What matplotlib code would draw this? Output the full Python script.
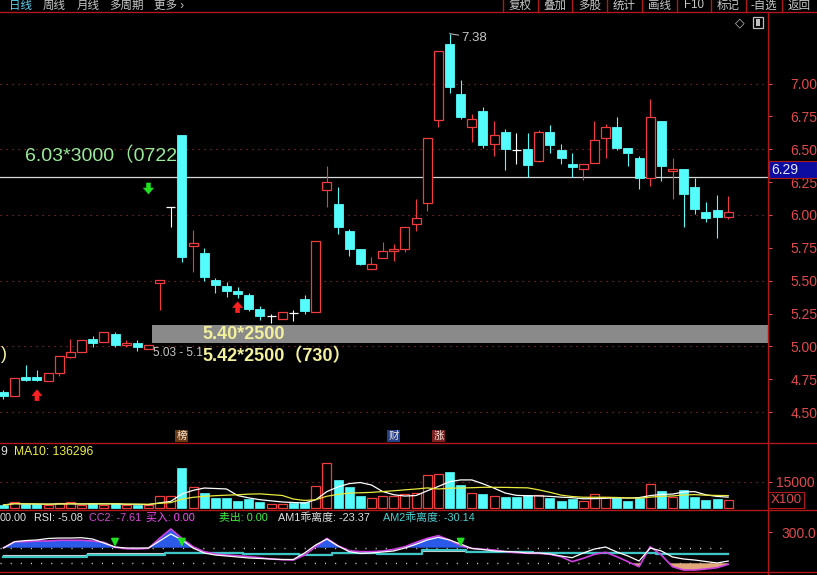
"""Daily K-line screen (candles + volume + deviation indicator), redrawn with matplotlib."""
import numpy as np
import pandas as pd
import matplotlib
matplotlib.use("Agg")
import matplotlib.pyplot as plt
from matplotlib.patches import Rectangle, Polygon
from matplotlib.lines import Line2D

# ---- values ----
opens = [4.65, 4.62, 4.77, 4.77, 4.74, 4.795, 4.92, 4.955, 5.056, 5.036,
         5.094, 5.008, 5.028, 4.982, 5.485, 6.059, 6.609, 5.766, 5.709, 5.505,
         5.46, 5.424, 5.391, 5.285, 5.231, 5.211, 5.253, 5.358, 5.26, 6.188,
         6.084, 5.878, 5.739, 5.587, 5.675, 5.726, 5.739, 5.932, 6.089, 6.723,
         7.301, 6.921, 6.667, 6.791, 6.538, 6.634, 6.492, 6.502, 6.413, 6.629,
         6.495, 6.388, 6.348, 6.398, 6.584, 6.667, 6.508, 6.432, 6.279, 6.713,
         6.333, 6.348, 6.211, 6.021, 6.038, 5.987]
highs = [4.67, 4.76, 4.855, 4.82, 4.80, 4.93, 5.056, 5.05, 5.081, 5.11,
         5.112, 5.049, 5.049, 5.01, 5.505, 6.059, 6.61, 5.886, 5.747, 5.521,
         5.492, 5.45, 5.404, 5.307, 5.247, 5.26, 5.277, 5.391, 5.80, 6.375,
         6.215, 5.893, 5.741, 5.678, 5.797, 5.779, 5.906, 6.122, 6.584, 7.25,
         7.38, 7.027, 6.769, 6.82, 6.718, 6.654, 6.626, 6.626, 6.647, 6.685,
         6.54, 6.47, 6.386, 6.715, 6.693, 6.748, 6.508, 6.447, 6.883, 6.713,
         6.432, 6.348, 6.284, 6.097, 6.152, 6.145]
lows = [4.60, 4.62, 4.74, 4.74, 4.735, 4.775, 4.912, 4.955, 4.995, 5.03,
        4.998, 4.995, 4.967, 4.98, 5.277, 5.911, 5.645, 5.568, 5.498, 5.404,
        5.378, 5.366, 5.272, 5.201, 5.176, 5.21, 5.196, 5.244, 5.26, 6.063,
        5.853, 5.69, 5.62, 5.587, 5.675, 5.65, 5.716, 5.881, 6.033, 6.667,
        6.926, 6.728, 6.558, 6.508, 6.449, 6.342, 6.388, 6.291, 6.406, 6.474,
        6.388, 6.291, 6.266, 6.398, 6.432, 6.495, 6.373, 6.198, 6.221, 6.261,
        6.119, 5.906, 6.005, 5.949, 5.823, 5.967]
closes = [4.62, 4.76, 4.745, 4.745, 4.795, 4.927, 4.957, 5.049, 5.028, 5.11,
          5.011, 5.028, 4.998, 5.008, 5.503, 6.059, 5.683, 5.785, 5.526, 5.465,
          5.424, 5.399, 5.285, 5.231, 5.231, 5.26, 5.253, 5.272, 5.80, 6.249,
          5.911, 5.741, 5.625, 5.625, 5.726, 5.741, 5.906, 5.975, 6.584, 7.248,
          6.976, 6.748, 6.731, 6.533, 6.609, 6.502, 6.492, 6.381, 6.629, 6.533,
          6.436, 6.363, 6.386, 6.571, 6.667, 6.512, 6.474, 6.279, 6.744, 6.375,
          6.35, 6.158, 6.043, 5.975, 5.982, 6.021]
volumes = [1860, 3380, 2260, 2260, 1860, 2820, 3380, 1860, 2820, 1860,
           2820, 1860, 1860, 1860, 6940, 6940, 22950, 11840, 8460, 5640,
           5640, 4340, 5250, 3380, 2430, 2430, 2820, 3780, 12580, 25380,
           15960, 11840, 6940, 5640, 6940, 6940, 8070, 8460, 18780, 19350,
           20300, 13140, 8460, 7900, 6940, 6600, 6600, 7330, 7500, 5640,
           4340, 5080, 4340, 7900, 6600, 5640, 4340, 5640, 13700, 9760,
           6600, 10320, 6600, 4680, 5250, 4680]
am1 = [96, 177, 192, 199, 218, 224, 224, 228, 211, 160,
       109, 96, 96, 96, 186, 276, 199, 96, 32, 6,
       -6, -19, -32, -38, -45, -51, -51, 32, 135, 211,
       122, 49, 26, 32, 45, 58, 96, 144, 199, 233,
       199, 147, 90, 77, 58, 51, 45, 32, 32, 19,
       -6, -28, 32, 83, 109, 45, -6, -71, 96, 58,
       -19, -45, -58, -77, -96, -71]
am2 = [100, 177, 177, 186, 186, 195, 195, 195, 186, 169,
       105, 87, 83, 92, 220, 340, 220, 113, 49, 19,
       6, -3, -15, -28, -45, -54, -58, 6, 113, 220,
       126, 62, 49, 49, 58, 79, 113, 169, 220, 254,
       199, 126, 92, 79, 71, 49, 36, 28, 28, 15,
       -15, -79, -36, 15, 41, -15, -79, -144, 113, 6,
       -144, -186, -186, -173, -156, -113]
cc_teal = [-15] * 8 + [6] * 7 + [28] * 3 + [36] * 4 + [15] * 5 + [6] * 3 + \
          [28] * 4 + [15] * 4 + [70] * 4 + [49] * 6 + [36] * 11 + [15] * 7
cc_grey = [6] * 8 + [36] * 7 + [40] * 7 + [20] * 8 + [36] * 8 + \
          [60] * 10 + [45] * 11 + [28] * 7
buy_marks = [10, 16, 41]          # green arrows in the indicator pane
price_ticks = [4.50, 4.75, 5.00, 5.25, 5.50, 5.75, 6.00, 6.25, 6.50, 6.75, 7.00]
price_grid = [4.5, 5.0, 5.5, 6.0, 6.5, 7.0]
hline_price = 6.29
peak_idx, peak_price = 40, 7.38

# ---- layout (screen pixels) ----
W, H = 817, 575
AXIS_X = 768
STEP, X0 = 11.15, 3.5
Y_TOP, Y_MAIN, Y_VOL, Y_IND = 12.5, 443.3, 509.5, 571.7
PY6, PX_PRICE = 215.0, 131.4        # y of 6.00, px per 1.00
VBASE, PX_VOL = 508.3, 26.6 / 15000
IY100, PX_IND = 547.7, 15.6 / 200

BG = "black"
RED = "#f03c3c"
CYAN = "#54fcfc"
FRAME = "#b01818"
AXTXT = "#e24a4a"
GRID = "#a02222"

plt.rcParams["font.family"] = ["Liberation Sans", "Noto Sans CJK SC", "DejaVu Sans"]
fig = plt.figure(figsize=(W / 100, H / 100), dpi=100, facecolor=BG)


def px_axes(top, bottom, pad):
    ax = fig.add_axes([0, 1 - bottom / H, AXIS_X / W, (bottom - top) / H])
    ax.set_facecolor("none")
    for s in ax.spines.values():
        s.set_visible(False)
    ax.set_xticks([])
    ax.set_xlim(-X0 / STEP, (AXIS_X - X0) / STEP)
    ax.yaxis.tick_right()
    ax.tick_params(axis="y", colors=AXTXT, length=3, width=0.8, pad=pad, labelsize=10)
    return ax


def ftext(x, y, s, **kw):
    kw.setdefault("va", "center")
    fig.text(x / W, 1 - y / H, s, **kw)


def fline(xs, ys, **kw):
    fig.add_artist(Line2D([x / W for x in xs], [1 - y / H for y in ys],
                          transform=fig.transFigure, **kw))


idx = np.arange(len(opens))
o, h, l, c = map(np.asarray, (opens, highs, lows, closes))
bw = 9 / STEP

# ---- price pane ----
ax = px_axes(Y_TOP, Y_MAIN, 13)
ax.set_ylim(6 - (Y_MAIN - PY6) / PX_PRICE, 6 + (PY6 - Y_TOP) / PX_PRICE)
ax.set_yticks(price_ticks)
ax.set_yticklabels([f"{p:.2f}" for p in price_ticks])
ax.hlines(price_grid, *ax.get_xlim(), colors=GRID, lw=0.8, linestyles=(0, (1.2, 4.2)))
ax.axhline(hline_price, color="#d8d8d8", lw=0.9, zorder=2)

for i in idx:
    if c[i] > o[i]:
        ax.vlines(i, c[i], h[i], color=RED, lw=0.8, zorder=4)
        ax.vlines(i, l[i], o[i], color=RED, lw=0.8, zorder=4)
        ax.add_patch(Rectangle((i - bw / 2, o[i]), bw, c[i] - o[i], fc=BG, ec=RED, lw=0.9, zorder=4))
    elif c[i] < o[i]:
        ax.vlines(i, l[i], h[i], color=CYAN, lw=0.8, zorder=4)
        ax.add_patch(Rectangle((i - bw / 2, c[i]), bw, o[i] - c[i], fc=CYAN, ec=CYAN, lw=0.6, zorder=4))
    else:
        ax.vlines(i, l[i], h[i], color="white", lw=0.8, zorder=4)
        ax.hlines(o[i], i - bw / 2, i + bw / 2, color="white", lw=0.9, zorder=4)


def block_arrow(i, tip, up, color):
    s = 1 if up else -1
    shape = [(0, 0), (5, -6), (2, -6), (2, -11), (-2, -11), (-2, -6), (-5, -6)]
    pts = [(i + px / STEP, tip + s * py / PX_PRICE) for px, py in shape]
    ax.add_patch(Polygon(pts, closed=True, fc=color, ec=color, lw=0.4, zorder=6))


block_arrow(3, 4.67, True, "#ff2020")
block_arrow(21, 5.34, True, "#ff2020")
block_arrow(13, 6.16, False, "#20e020")

ax.text(1.93, 6.453, "6.03*3000（0722", color="#98ec98", fontsize=14, va="center", zorder=3)
ax.add_patch(Rectangle((13.29, 5.028), ax.get_xlim()[1] - 13.29, 0.135, fc="#8a8a8a", ec="none", zorder=5))
ax.text(17.85, 5.087, "5.40*2500", color="#f2f09a", fontsize=13, fontweight="bold", va="center", zorder=6)
ax.text(13.45, 4.953, "5.03 - 5.1", color="#c8c8c8", fontsize=8.5, va="center", zorder=5)
ax.text(17.85, 4.922, "5.42*2500（730）", color="#f2f09a", fontsize=13, fontweight="bold", va="center", zorder=6)
ax.text(-0.25, 4.938, ")", color="#f2f09a", fontsize=13, va="center", zorder=6)
ax.annotate(f"{peak_price:.2f}", xy=(peak_idx, peak_price), xytext=(12, -4), textcoords="offset pixels",
            color="#c8c8c8", fontsize=9.5, va="center",
            arrowprops=dict(arrowstyle="-", color="#c8c8c8", lw=0.7, shrinkA=0, shrinkB=0))

# event tags at the foot of the price pane
for i, s, bg in [(16, "榜", "#6a3a12"), (35, "财", "#22408a"), (39, "涨", "#7a2020")]:
    ax.text(i, 6 - (436 - PY6) / PX_PRICE, s, color="#f4e8dc", fontsize=7.5, ha="center", va="center",
            bbox=dict(boxstyle="square,pad=0.12", fc=bg, ec="none"), zorder=6)

# ---- volume pane ----
vax = px_axes(Y_MAIN, Y_VOL, 3)
vax.set_ylim(-(Y_VOL - VBASE) / PX_VOL, (VBASE - Y_MAIN) / PX_VOL)
vax.set_yticks([15000])
vax.set_yticklabels(["15000"])
vax.axhline(15000, color=GRID, lw=0.8, linestyle=(0, (1.2, 4.2)))
prev = np.r_[c[0], c[:-1]]
up = (c > o) | ((c == o) & (c >= prev))
for i in idx:
    if up[i]:
        vax.add_patch(Rectangle((i - bw / 2, 0), bw, volumes[i], fc=BG, ec=RED, lw=0.9, zorder=3))
    else:
        vax.add_patch(Rectangle((i - bw / 2, 0), bw, volumes[i], fc=CYAN, ec=CYAN, lw=0.5, zorder=3))
vol = pd.Series(volumes, dtype=float)
vax.plot(idx, vol.rolling(5, min_periods=1).mean(), color="white", lw=0.9, zorder=4)
vax.plot(idx, vol.rolling(10, min_periods=1).mean(), color="#e8e840", lw=0.9, zorder=4)
ftext(0, 451.7, "9", color="#e0e0e0", fontsize=8.7)
ftext(14, 451.7, "MA10: 136296", color="#f0f040", fontsize=8.7)
ftext(786, 500, "X100", color=AXTXT, fontsize=9.5, ha="center",
      bbox=dict(boxstyle="square,pad=0.15", fc=BG, ec=FRAME, lw=0.8))

# ---- indicator pane ----
iax = px_axes(Y_VOL, Y_IND, 7)
iax.set_ylim(100 - (Y_IND - IY100) / PX_IND, 100 + (IY100 - Y_VOL) / PX_IND)
iax.set_yticks([300])
iax.set_yticklabels(["300.0"])
a1, a2 = np.asarray(am1, float), np.asarray(am2, float)
iax.fill_between(idx, a2, 100, where=a2 > 100, interpolate=True, color="#2c5ae8", lw=0, zorder=2)
iax.fill_between(idx, a2, -100, where=a2 < -100, interpolate=True, color="#e0a878", lw=0, zorder=2)
iax.hlines([100, -100], iax.get_xlim()[0], 65.2, colors="#d0d0d0", lw=1.0, linestyles=(0, (0.8, 6.5)), zorder=1)
iax.plot(idx, cc_grey, color="#cfcfcf", lw=0.8, drawstyle="steps-mid", zorder=3)
iax.plot(idx, cc_teal, color="#3cc6c6", lw=1.6, drawstyle="steps-mid", zorder=3)
iax.plot(idx, a2, color="#d040e0", lw=1.2, zorder=4)
iax.plot(idx, a1, color="white", lw=0.9, zorder=5)
for i in buy_marks:
    iax.annotate("", xy=(i, 75), xytext=(i, 245),
                 arrowprops=dict(arrowstyle="-|>,head_width=0.22,head_length=0.45",
                                 color="#20e020", lw=1.3), zorder=6)

for x, s, col in [(0, "00.00", "#e0e0e0"), (34, "RSI: -5.08", "#e0e0e0"),
                  (89, "CC2: -7.61", "#d848d8"), (146, "买入: 0.00", "#ff48ff"),
                  (219, "卖出: 0.00", "#40f040"), (278, "AM1乖离度: -23.37", "#e0e0e0"),
                  (383, "AM2乖离度: -30.14", "#48d0d0")]:
    ftext(x, 517.7, s, color=col, fontsize=7.8)

# ---- price tag for the drawn line ----
fig.add_artist(Rectangle((769 / W, 1 - 177.5 / H), 48 / W, 16.5 / H, transform=fig.transFigure,
                         fc="#0c0ca0", ec=FRAME, lw=0.8))
ftext(771, 169.5, f"{hline_price:.2f}", color="#e8e8ff", fontsize=10)

# ---- frame lines ----
fline([0, W], [12.3, 12.3], color=FRAME, lw=1)
fline([0, W], [Y_MAIN, Y_MAIN], color=FRAME, lw=1)
fline([0, W], [Y_VOL, Y_VOL], color=FRAME, lw=1)
fline([0, W], [Y_IND, Y_IND], color=FRAME, lw=1)
fline([AXIS_X, AXIS_X], [12.3, H], color=FRAME, lw=1)

# ---- top tab bar ----
for x, s, col in [(9, "日线", "#5ad2f0"), (43, "周线", "#c8c8c8"), (77, "月线", "#c8c8c8"),
                  (109, "多周期", "#c8c8c8"), (154, "更多 ›", "#c8c8c8")]:
    ftext(x, 5.5, s, color=col, fontsize=8.3)
seps = [503, 538, 572, 607, 642, 677, 711, 746, 782, 817]
for xs in seps[:-1]:
    fline([xs, xs], [0, 12.3], color=FRAME, lw=1)
for a, b, s in zip(seps[:-1], seps[1:], ["复权", "叠加", "多股", "统计", "画线", "F10", "标记", "-自选", "返回"]):
    ftext((a + b) / 2, 5.5, s, color="#c8c8c8", fontsize=8.3, ha="center")
ftext(740, 23, "◇", color="#c0c0c0", fontsize=9, ha="center", family=["DejaVu Sans"])
fig.add_artist(Rectangle((753 / W, 1 - 28 / H), 10 / W, 11 / H, transform=fig.transFigure,
                         fc="none", ec="#c0c0c0", lw=0.9))
fig.add_artist(Rectangle((756 / W, 1 - 26 / H), 4 / W, 7 / H, transform=fig.transFigure,
                         fc="#c0c0c0", ec="none"))

fig.savefig("out.png", dpi=100, facecolor=BG)
